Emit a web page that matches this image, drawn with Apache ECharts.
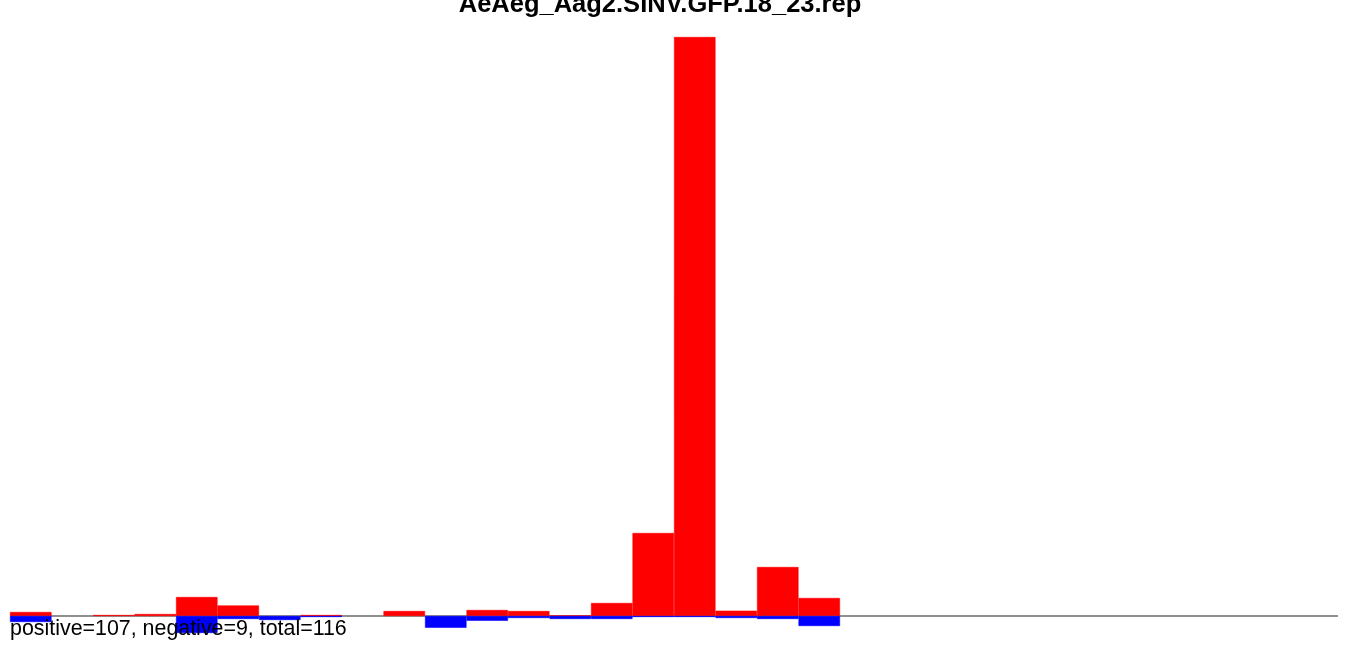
<!DOCTYPE html>
<html>
<head>
<meta charset="utf-8">
<script src="https://cdn.jsdelivr.net/npm/echarts@6/dist/echarts.min.js"></script>
<style>
html,body{margin:0;padding:0;background:#fff;}
#chart{width:1350px;height:645px;}
</style>
</head>
<body>
<div id="chart"></div>
<script>
const titleText = 'AeAeg_Aag2.SINV.GFP.18_23.rep';
const footerText = 'positive=107, negative=9, total=116';
const categories = ['1','2','3','4','5','6','7','8','9','10','11','12','13','14','15','16',
  '17','18','19','20','21','22','23','24','25','26','27','28','29','30','31','32'];
const positiveValues = [4, 0, 1, 2, 19, 10.5, 0, 1, 0, 5, 0, 6, 5, 0.5, 13, 83, 579, 5.3, 49, 18];
const negativeValues = [-6, 0, 0, 0, -17, -3, -4, -1, 0, 0, -11.7, -4.7, -2, -3, -3, -1, -1, -2, -3, -10];
const yMin = -29;
const yMax = 579;

// empty (zero) bars are not drawn at all
const toBarData = arr => arr.map(v => (v === 0 ? null : v));

const chart = echarts.init(document.getElementById('chart'), null, {renderer: 'canvas'});
chart.setOption({
  animation: false,
  backgroundColor: '#ffffff',
  grid: {left: 10, right: 12, top: 37, bottom: 0, containLabel: false},
  xAxis: {
    type: 'category',
    data: categories,
    boundaryGap: true,
    axisLine: {show: false},
    axisTick: {show: false},
    axisLabel: {show: false},
    splitLine: {show: false}
  },
  yAxis: {
    type: 'value',
    min: yMin,
    max: yMax,
    axisLine: {show: false},
    axisTick: {show: false},
    axisLabel: {show: false},
    splitLine: {show: false}
  },
  series: [
    {
      type: 'bar',
      data: toBarData(positiveValues),
      barGap: '-100%',
      barCategoryGap: '0%',
      itemStyle: {color: '#ff0000', borderColor: '#ff0000', borderWidth: 0.6},
      z: 2,
      markLine: {
        silent: true,
        symbol: 'none',
        label: {show: false},
        lineStyle: {color: '#6b6b6b', width: 1.5, type: 'solid'},
        data: [{yAxis: 0}],
        z: 1
      }
    },
    {
      type: 'bar',
      data: toBarData(negativeValues),
      barGap: '-100%',
      barCategoryGap: '0%',
      itemStyle: {color: '#0000ff', borderColor: '#0000ff', borderWidth: 0.6},
      z: 3
    }
  ],
  graphic: [
    {
      type: 'text',
      x: 660,
      y: 18,
      z: 10,
      style: {
        text: titleText,
        fontFamily: '"Liberation Sans", Arial, sans-serif',
        fontWeight: 'bold',
        fontSize: 25.5,
        fill: '#000',
        align: 'center',
        verticalAlign: 'bottom'
      }
    },
    {
      type: 'text',
      x: 10,
      y: 619,
      z: 10,
      style: {
        text: footerText,
        fontFamily: '"Liberation Sans", Arial, sans-serif',
        fontSize: 21.4,
        fill: '#000',
        align: 'left',
        verticalAlign: 'top'
      }
    }
  ]
});
</script>
</body>
</html>
